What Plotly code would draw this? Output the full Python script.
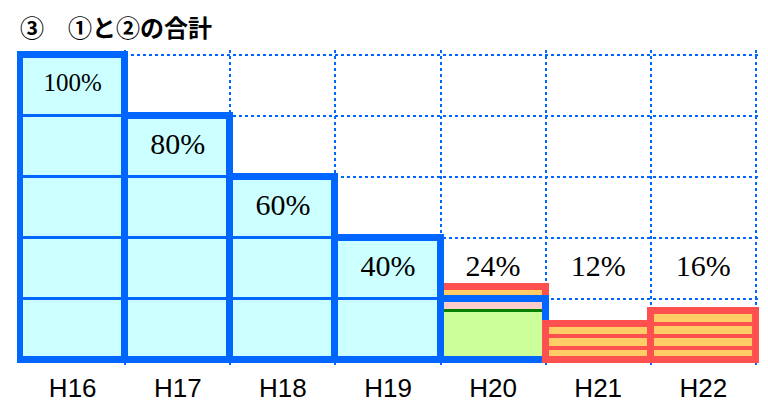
import plotly.graph_objects as go

# data
years = ["H16", "H17", "H18", "H19", "H20", "H21", "H22"]
plan1 = [100, 80, 60, 40, 20, 0, 0]      # ① (blue boxes)
plan2 = [0, 0, 0, 0, 4, 12, 16]          # ② (red striped boxes)
green_part = [0, 0, 0, 0, 16, 0, 0]      # green share inside ① for H20
total = [a + b for a, b in zip(plan1, plan2)]
labels = [f"{t}%" for t in total]

BLUE = "#0066FF"
CYAN = "#CCFFFF"
RED = "#FF5050"
ORANGE = "#FFCC66"
LIME = "#CCFF99"
PINK = "#FFCCCC"
DKGREEN = "#008000"

SEG = 20    # height of one blue block
STRIPE = 4  # height of one orange stripe

# the page body has an 8px margin, so the figure is shifted by that much
W, H, OFF = 760, 396, 8

idx = list(range(len(years)))
fig = go.Figure()


def red_boxes(cols):
    # orange stripes stacked on top of ①, then the red outline around the total
    n = max(plan2[i] // STRIPE for i in cols)
    for k in range(n):
        xs = [i for i in cols if plan2[i] // STRIPE > k]
        fig.add_trace(go.Bar(
            x=xs, y=[STRIPE] * len(xs), base=[plan1[i] + k * STRIPE for i in xs],
            width=1, marker=dict(color=ORANGE, line=dict(color=RED, width=4)),
            hoverinfo="skip", showlegend=False))
    fig.add_trace(go.Bar(
        x=cols, y=[total[i] for i in cols], width=1,
        marker=dict(color="rgba(0,0,0,0)", line=dict(color=RED, width=7)),
        hoverinfo="skip", showlegend=False))


with2 = [i for i in idx if plan2[i] > 0]

# red box that sits behind the blue one (H20)
red_boxes([i for i in with2 if plan1[i] > 0])

# blue stacked blocks
for level in range(0, 100, SEG):
    xs = [i for i in idx if plan1[i] > level]
    fig.add_trace(go.Bar(
        x=xs, y=[SEG] * len(xs), base=[level] * len(xs), width=1,
        marker=dict(color=CYAN, line=dict(color=BLUE, width=3)),
        hoverinfo="skip", showlegend=False))

# green / pink part of H20
gx = [i for i in idx if green_part[i] > 0]
fig.add_trace(go.Bar(
    x=gx, y=[green_part[i] for i in gx], base=[0] * len(gx), width=1,
    marker=dict(color=LIME, line=dict(width=0)),
    hoverinfo="skip", showlegend=False))
fig.add_trace(go.Bar(
    x=gx, y=[plan1[i] - green_part[i] for i in gx], base=[green_part[i] for i in gx], width=1,
    marker=dict(color=PINK, line=dict(color=DKGREEN, width=3)),
    hoverinfo="skip", showlegend=False))

# blue outline of ①
bx = [i for i in idx if plan1[i] > 0]
fig.add_trace(go.Bar(
    x=bx, y=[plan1[i] for i in bx], width=1,
    marker=dict(color="rgba(0,0,0,0)", line=dict(color=BLUE, width=7)),
    hoverinfo="skip", showlegend=False))

# red boxes in front (H21, H22)
red_boxes([i for i in with2 if plan1[i] == 0])

# percentage labels in the top band of each column
label_y = [max(t, 2 * SEG) - SEG / 2 for t in total]
fig.add_trace(go.Scatter(
    x=idx, y=label_y, mode="text", text=labels,
    textfont=dict(family="Liberation Serif, Times New Roman, serif",
                  size=[25 if t >= 100 else 30 for t in total], color="black"),
    hoverinfo="skip", showlegend=False))

fig.update_layout(
    width=W, height=H,
    margin=dict(l=9, r=9, t=42, b=39, autoexpand=False),
    barmode="overlay", bargap=0,
    plot_bgcolor="white", paper_bgcolor="white",
    title=dict(text="<b>③　①と②の合計</b>", x=(20 - OFF) / W, xref="container",
               xanchor="left", y=1 - (29 - OFF) / H, yref="container", yanchor="middle",
               font=dict(family="Noto Sans CJK JP", size=24, color="black")),
    xaxis=dict(range=[-0.53, 6.53], tickmode="array", tickvals=idx, ticktext=years,
               showgrid=False, zeroline=False, showline=False, ticks="",
               automargin=False, ticklabelstandoff=5,
               tickfont=dict(family="Liberation Sans, Arial", size=26, color="black"),
               minor=dict(tickmode="array", tickvals=[i + 0.5 for i in idx], ticks="",
                          showgrid=True, gridcolor=BLUE, griddash="dot", gridwidth=2)),
    yaxis=dict(range=[-1.5, 101.5], tickmode="array", tickvals=[20, 40, 60, 80, 100],
               automargin=False, showticklabels=False, showgrid=True, gridcolor=BLUE,
               griddash="dot", gridwidth=2, zeroline=False, showline=False),
)

fig.write_html("out.html")
